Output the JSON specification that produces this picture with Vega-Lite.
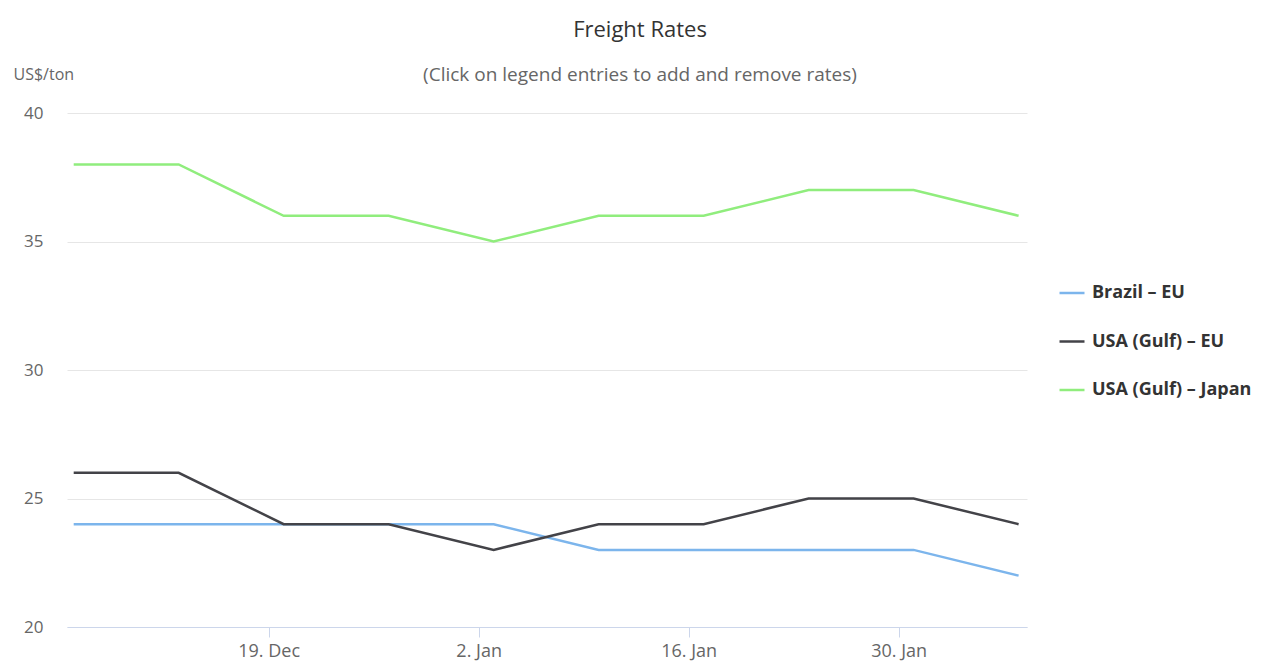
{
  "$schema": "https://vega.github.io/schema/vega-lite/v6.json",
  "autosize": "none",
  "width": 960,
  "height": 514,
  "padding": {"left": 67, "top": 113, "right": 238, "bottom": 35},
  "background": "white",
  "config": {
    "font": "Open Sans",
    "view": {"stroke": null}
  },
  "title": {
    "text": "Freight Rates",
    "subtitle": "(Click on legend entries to add and remove rates)",
    "anchor": "middle",
    "dx": 93,
    "dy": 30,
    "fontSize": 22,
    "fontWeight": "normal",
    "color": "#333333",
    "subtitleFontSize": 19,
    "subtitleColor": "#666666",
    "subtitlePadding": 24,
    "offset": 10
  },
  "data": {
    "values": [
      {"date": "2016/12/06", "route": "Brazil – EU", "rate": 24},
      {"date": "2016/12/13", "route": "Brazil – EU", "rate": 24},
      {"date": "2016/12/20", "route": "Brazil – EU", "rate": 24},
      {"date": "2016/12/27", "route": "Brazil – EU", "rate": 24},
      {"date": "2017/01/03", "route": "Brazil – EU", "rate": 24},
      {"date": "2017/01/10", "route": "Brazil – EU", "rate": 23},
      {"date": "2017/01/17", "route": "Brazil – EU", "rate": 23},
      {"date": "2017/01/24", "route": "Brazil – EU", "rate": 23},
      {"date": "2017/01/31", "route": "Brazil – EU", "rate": 23},
      {"date": "2017/02/07", "route": "Brazil – EU", "rate": 22},
      {"date": "2016/12/06", "route": "USA (Gulf) – EU", "rate": 26},
      {"date": "2016/12/13", "route": "USA (Gulf) – EU", "rate": 26},
      {"date": "2016/12/20", "route": "USA (Gulf) – EU", "rate": 24},
      {"date": "2016/12/27", "route": "USA (Gulf) – EU", "rate": 24},
      {"date": "2017/01/03", "route": "USA (Gulf) – EU", "rate": 23},
      {"date": "2017/01/10", "route": "USA (Gulf) – EU", "rate": 24},
      {"date": "2017/01/17", "route": "USA (Gulf) – EU", "rate": 24},
      {"date": "2017/01/24", "route": "USA (Gulf) – EU", "rate": 25},
      {"date": "2017/01/31", "route": "USA (Gulf) – EU", "rate": 25},
      {"date": "2017/02/07", "route": "USA (Gulf) – EU", "rate": 24},
      {"date": "2016/12/06", "route": "USA (Gulf) – Japan", "rate": 38},
      {"date": "2016/12/13", "route": "USA (Gulf) – Japan", "rate": 38},
      {"date": "2016/12/20", "route": "USA (Gulf) – Japan", "rate": 36},
      {"date": "2016/12/27", "route": "USA (Gulf) – Japan", "rate": 36},
      {"date": "2017/01/03", "route": "USA (Gulf) – Japan", "rate": 35},
      {"date": "2017/01/10", "route": "USA (Gulf) – Japan", "rate": 36},
      {"date": "2017/01/17", "route": "USA (Gulf) – Japan", "rate": 36},
      {"date": "2017/01/24", "route": "USA (Gulf) – Japan", "rate": 37},
      {"date": "2017/01/31", "route": "USA (Gulf) – Japan", "rate": 37},
      {"date": "2017/02/07", "route": "USA (Gulf) – Japan", "rate": 36}
    ]
  },
  "mark": {"type": "line", "strokeWidth": 2.5, "interpolate": "linear"},
  "encoding": {
    "x": {
      "field": "date",
      "type": "temporal",
      "scale": {
        "domain": [
          {"year": 2016, "month": 12, "date": 5, "hours": 13, "minutes": 17},
          {"year": 2017, "month": 2, "date": 7, "hours": 13, "minutes": 27}
        ]
      },
      "axis": {
        "title": null,
        "grid": false,
        "values": [
          {"year": 2016, "month": 12, "date": 19},
          {"year": 2017, "month": 1, "date": 2},
          {"year": 2017, "month": 1, "date": 16},
          {"year": 2017, "month": 1, "date": 30}
        ],
        "format": "%-d. %b",
        "domainColor": "#ccd6eb",
        "domainWidth": 1,
        "tickColor": "#ccd6eb",
        "tickSize": 10,
        "labelFontSize": 18,
        "labelColor": "#666666",
        "labelPadding": 5
      }
    },
    "y": {
      "field": "rate",
      "type": "quantitative",
      "scale": {"domain": [20, 40], "nice": false, "zero": false},
      "axis": {
        "title": "US$/ton",
        "titleAngle": 0,
        "titleAlign": "left",
        "titleBaseline": "alphabetic",
        "titleX": -54,
        "titleY": -34,
        "titleFontSize": 16,
        "titleFontWeight": "normal",
        "titleColor": "#666666",
        "values": [20, 25, 30, 35, 40],
        "domain": false,
        "ticks": false,
        "gridColor": "#e6e6e6",
        "labelFontSize": 17,
        "labelColor": "#666666",
        "labelPadding": 24
      }
    },
    "color": {
      "field": "route",
      "type": "nominal",
      "scale": {
        "domain": ["Brazil – EU", "USA (Gulf) – EU", "USA (Gulf) – Japan"],
        "range": ["#7cb5ec", "#434348", "#90ed7d"]
      },
      "legend": {
        "title": null,
        "orient": "none",
        "legendX": 991,
        "legendY": 166,
        "symbolType": "stroke",
        "symbolStrokeWidth": 2.5,
        "symbolSize": 625,
        "labelFontSize": 18,
        "labelFontWeight": "bold",
        "labelColor": "#333333",
        "labelOffset": 6,
        "rowPadding": 25.5
      }
    }
  }
}
